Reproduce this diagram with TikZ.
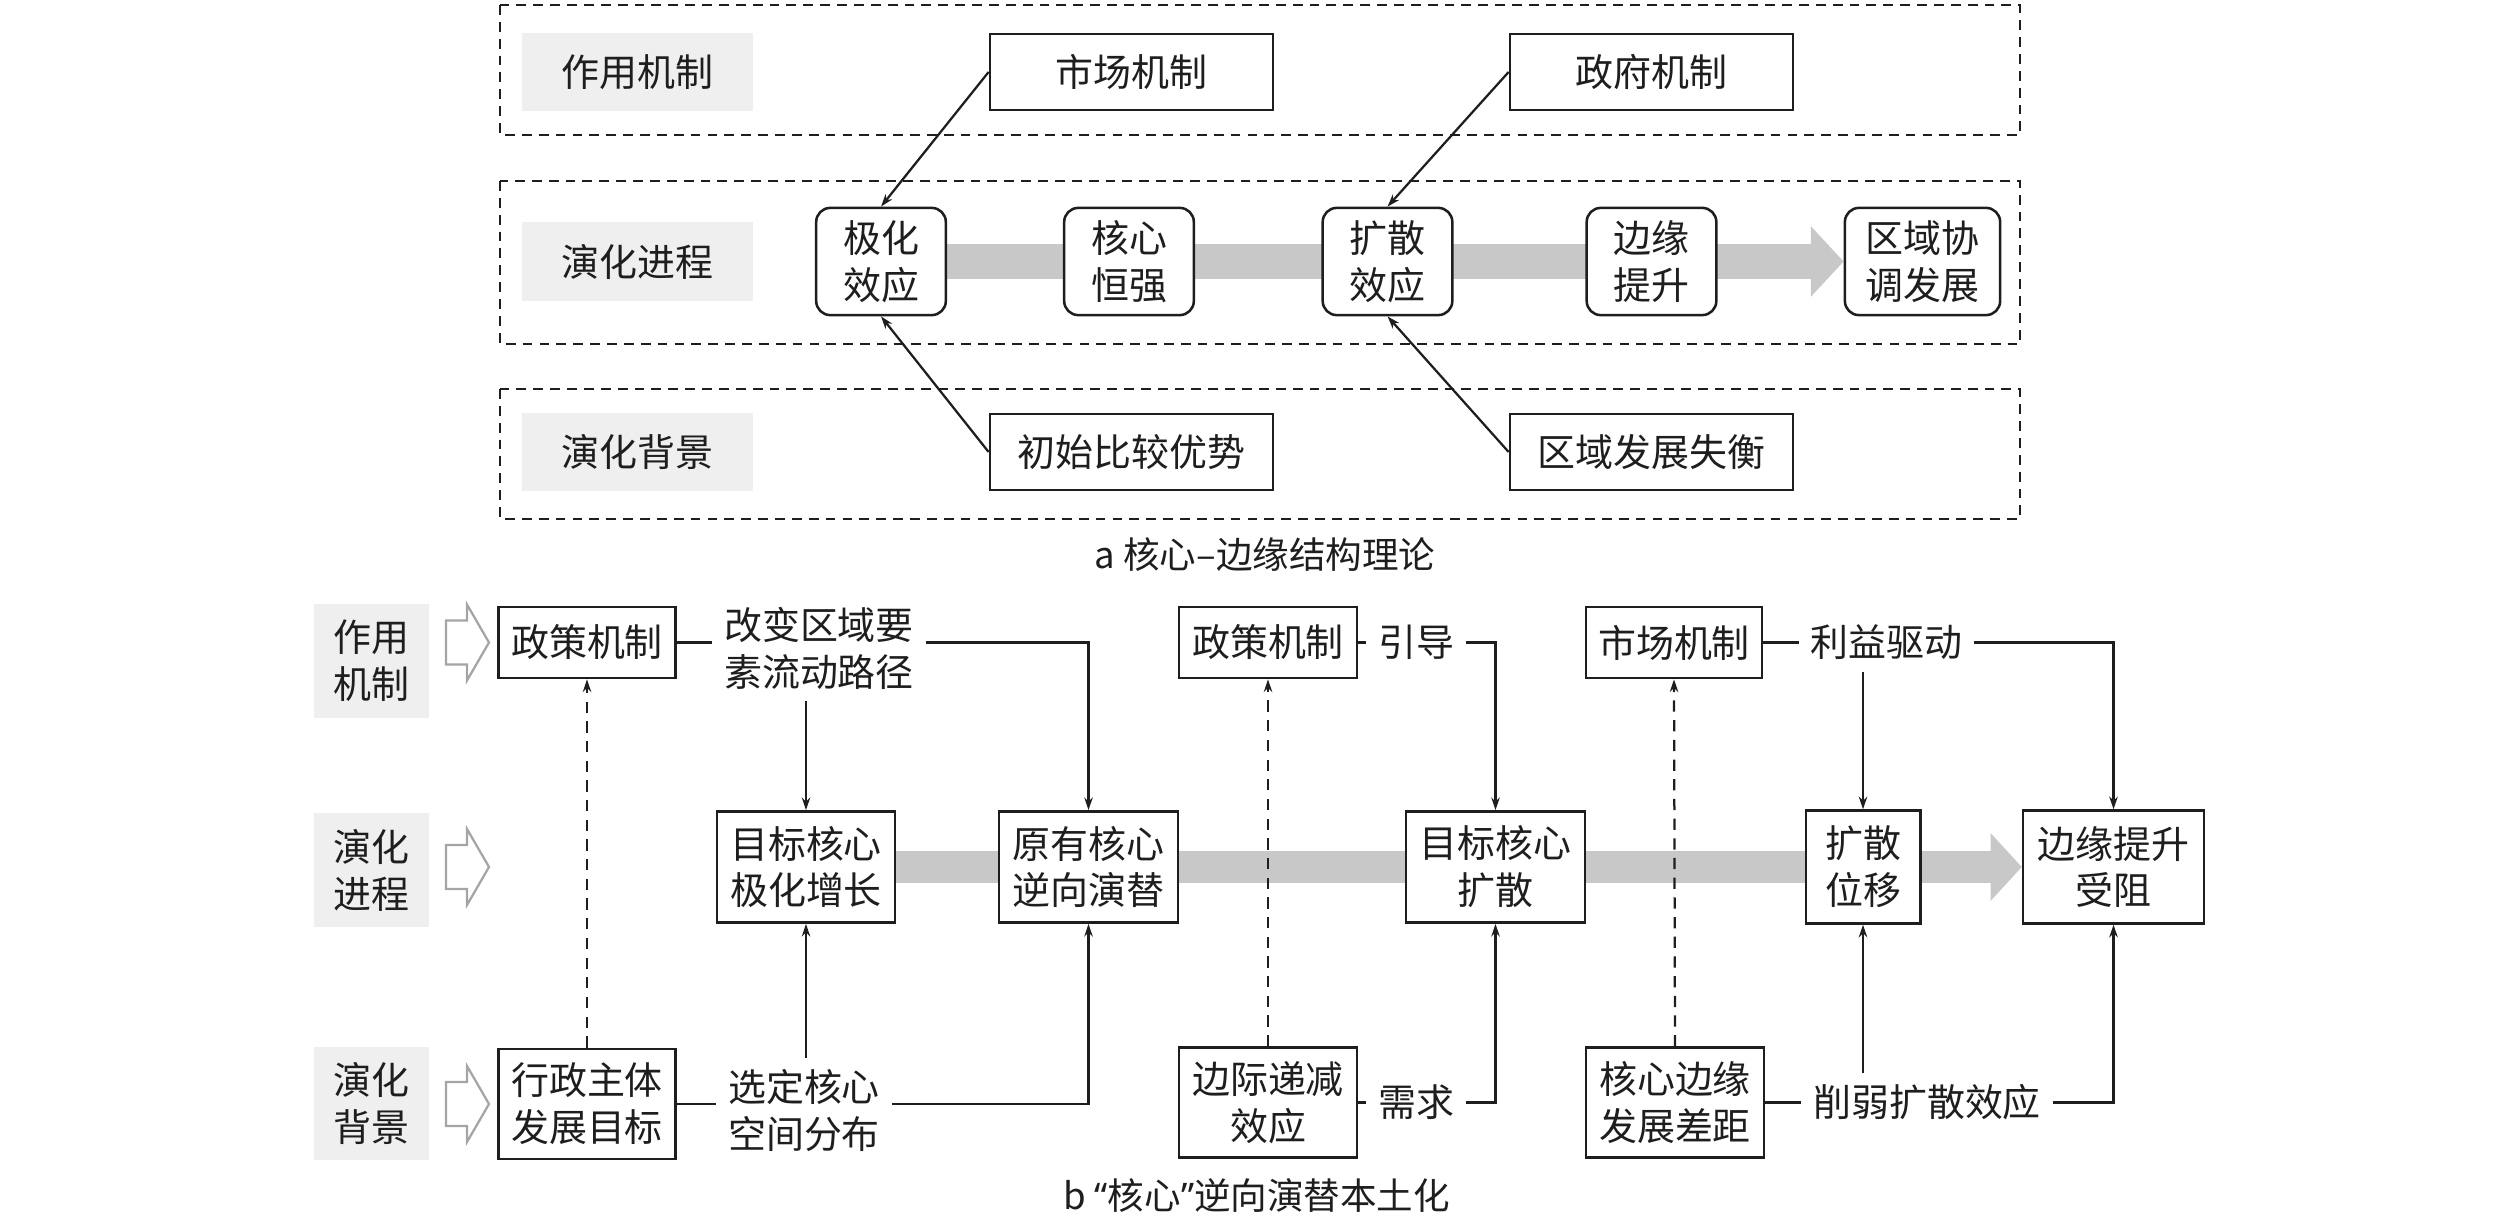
\documentclass[tikz,border=0pt]{standalone}
\usepackage{fontspec}
\setmainfont{Noto Sans CJK SC}
\newfontfamily\quotefont{Noto Sans}
\usepackage{xcolor}
\usepackage{tikz}
\usetikzlibrary{arrows.meta, positioning, backgrounds, calc}
\definecolor{labelgray}{RGB}{239,239,239}
\definecolor{flowgray}{RGB}{200,200,200}
\definecolor{hollowgray}{RGB}{165,165,165}
\definecolor{inkcolor}{RGB}{30,30,30}

\begin{document}
\begin{tikzpicture}[
    x=0.0125cm, y=-0.0125cm,
    every node/.style={font=\fontsize{13.5}{16.7}\selectfont, align=center, text=inkcolor},
    caption/.style={font=\fontsize{13}{15}\selectfont},
    rowlabel/.style={fill=labelgray, inner sep=0pt},
    rowframe/.style={draw=inkcolor, line width=0.9pt, dash pattern=on 3.5pt off 2.5pt},
    mechbox/.style={draw=inkcolor, fill=white, line width=0.9pt, inner sep=0pt},
    stagebox/.style={mechbox, rounded corners=5pt, minimum width=1.62cm, minimum height=1.34cm},
    textnode/.style={inner sep=4pt},
    plainconn/.style={draw=inkcolor, line width=0.8pt},
    conn/.style={plainconn, -{Stealth[length=4.5pt, width=3pt]}},
    dashconn/.style={conn, dash pattern=on 4pt off 3pt},
    flowarrow/.style={draw=flowgray, line width=0.4375cm, -{Triangle[length=0.41cm, width=0.86cm]}},
    hollowarrow/.style={draw=hollowgray, fill=white, line width=0.8pt}
]
    \useasboundingbox (0,0) rectangle (2520,1225);

    % a
    \foreach \t/\b in {5/135, 181/344, 389/519}
        \draw[rowframe] (500,\t) rectangle (2020,\b);
    \node[rowlabel, minimum width=2.89cm, minimum height=0.975cm] (la1) at (637.5,72) {作用机制};
    \node[rowlabel, minimum width=2.89cm, minimum height=0.975cm] (la2) at (637.5,261.5) {演化进程};
    \node[rowlabel, minimum width=2.89cm, minimum height=0.975cm] (la3) at (637.5,452) {演化背景};

    \node[mechbox, minimum width=3.54cm, minimum height=0.95cm] (scA) at (1131.5,72) {市场机制};
    \node[mechbox, minimum width=3.54cm, minimum height=0.95cm] (zfA) at (1651.5,72) {政府机制};
    \node[mechbox, minimum width=3.54cm, minimum height=0.95cm] (csA) at (1131.5,452) {初始比较优势};
    \node[mechbox, minimum width=3.54cm, minimum height=0.95cm] (qsA) at (1651.5,452) {区域发展失衡};

    \node[stagebox] (jh) at (881,261.5) {极化\\效应};
    \node[stagebox] (hx) at (1129,261.5) {核心\\恒强};
    \node[stagebox] (ks) at (1387.5,261.5) {扩散\\效应};
    \node[stagebox] (by) at (1651.5,261.5) {边缘\\提升};
    \node[stagebox, minimum width=1.94cm] (qy) at (1922.5,261.5) {区域协\\调发展};
    \begin{scope}[on background layer]
        \draw[flowarrow] (jh.center) -- (qy.west);
    \end{scope}

    \draw[conn] (scA.west) -- (jh.north);
    \draw[conn] (csA.west) -- (jh.south);
    \draw[conn] (zfA.west) -- (ks.north);
    \draw[conn] (qsA.west) -- (ks.south);

    \node[caption] (capA) at (1265,555) {a 核心–边缘结构理论};

    % b
    \node[rowlabel, minimum width=1.44cm, minimum height=1.42cm] (lb1) at (371.5,661) {作用\\机制};
    \node[rowlabel, minimum width=1.44cm, minimum height=1.42cm] (lb2) at (371.5,870) {演化\\进程};
    \node[rowlabel, minimum width=1.44cm, minimum height=1.42cm] (lb3) at (371.5,1103.5) {演化\\背景};
    \foreach \c in {642.5, 867, 1104}
        \draw[hollowarrow] (446,\c-22) -- (467,\c-22) -- (467,\c-38) -- (489,\c)
            -- (467,\c+38) -- (467,\c+22) -- (446,\c+22) -- cycle;

    \node[mechbox, minimum width=2.21cm, minimum height=0.89cm] (zc1) at (587,642.5) {政策机制};
    \node[mechbox, minimum width=2.21cm, minimum height=1.38cm] (xz) at (587,1104) {行政主体\\发展目标};
    \node[mechbox, minimum width=2.22cm, minimum height=1.39cm] (mb1) at (806,867) {目标核心\\极化增长};
    \node[mechbox, minimum width=2.24cm, minimum height=1.39cm] (yy) at (1088.5,867) {原有核心\\逆向演替};
    \node[textnode] (t1) at (819,648.5) {改变区域要\\素流动路径};
    \node[textnode] (t2) at (804,1110.5) {选定核心\\空间分布};

    \node[mechbox, minimum width=2.22cm, minimum height=0.89cm] (zc2) at (1268,642.5) {政策机制};
    \node[mechbox, minimum width=2.22cm, minimum height=1.37cm] (bj) at (1268,1102.5) {边际递减\\效应};
    \node[mechbox, minimum width=2.24cm, minimum height=1.39cm] (mk) at (1495.5,867) {目标核心\\扩散};
    \node[textnode] (t3) at (1416,642.5) {引导};
    \node[textnode] (t4) at (1416,1102.5) {需求};

    \node[mechbox, minimum width=2.2cm, minimum height=0.89cm] (sc) at (1674,642.5) {市场机制};
    \node[mechbox, minimum width=2.22cm, minimum height=1.37cm] (cb) at (1675,1102.5) {核心边缘\\发展差距};
    \node[mechbox, minimum width=1.43cm, minimum height=1.41cm] (kw) at (1863,867) {扩散\\位移};
    \node[mechbox, minimum width=2.26cm, minimum height=1.41cm] (ts) at (2113.5,867) {边缘提升\\受阻};
    \node[textnode] (t5) at (1886.5,642.5) {利益驱动};
    \node[textnode] (t6) at (1927,1102.5) {削弱扩散效应};

    \begin{scope}[on background layer]
        \draw[flowarrow, line width=0.41cm, -{Triangle[length=0.39cm, width=0.825cm]}] (mb1.center) -- (ts.west);
    \end{scope}

    \draw[plainconn] (zc1.east) -- (zc1.east -| t1.west);
    \draw[conn] (zc1.east -| t1.east) -| (yy.north);
    \draw[conn] (mb1.north |- t1.south) -- (mb1.north);
    \draw[plainconn] (xz.east) -- (xz.east -| t2.west);
    \draw[conn] (xz.east -| t2.east) -| (yy.south);
    \draw[conn] (mb1.south |- t2.north) -- (mb1.south);
    \draw[dashconn] (xz.north) -- (zc1.south);

    \draw[plainconn] (zc2.east) -- (t3.west);
    \draw[conn] (t3.east) -| (mk.north);
    \draw[plainconn] (bj.east) -- (t4.west);
    \draw[conn] (t4.east) -| (mk.south);
    \draw[dashconn] (bj.north) -- (zc2.south);

    \draw[plainconn] (sc.east) -- (t5.west);
    \draw[conn] (t5.east) -| (ts.north);
    \draw[conn] (kw.north |- t5.south) -- (kw.north);
    \draw[plainconn] (cb.east) -- (t6.west);
    \draw[conn] (t6.east) -| (ts.south);
    \draw[conn] (kw.south |- t6.north) -- (kw.south);
    \draw[dashconn] (cb.north) -- (sc.south);

    \node[caption] (capB) at (1257,1196) {b {\quotefont“}核心{\quotefont”}逆向演替本土化};
\end{tikzpicture}
\end{document}
